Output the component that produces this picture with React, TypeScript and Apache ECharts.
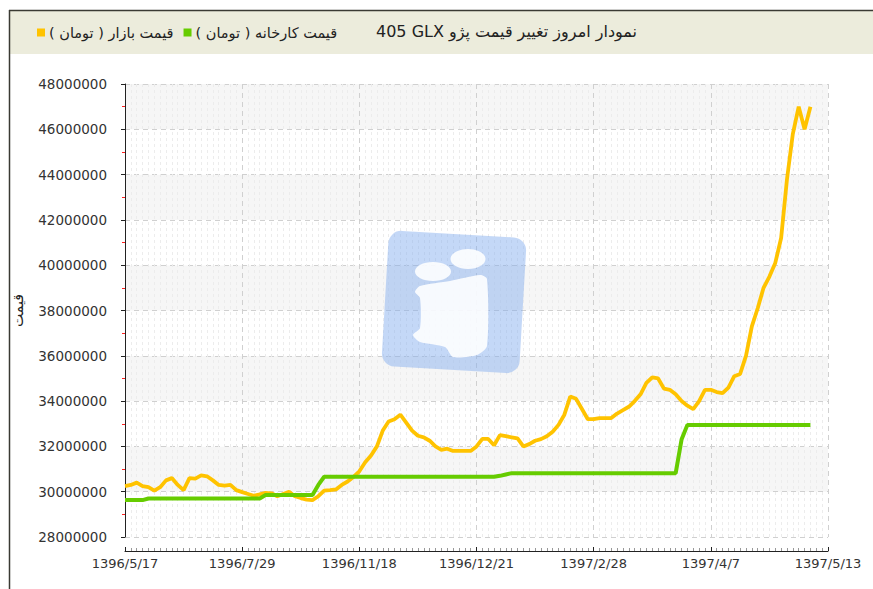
import React, { useEffect, useRef } from 'react';
import * as echarts from 'echarts';

// X tick labels (Persian calendar dates), one every 20 sample steps
const tickLabels = ['1396/5/17', '1396/7/29', '1396/11/18', '1396/12/21', '1397/2/28', '1397/4/7', '1397/5/13'];

const chartTitle = '\u202Bنمودار امروز تغییر قیمت پژو \u202A405 GLX\u202C\u202C';
const yAxisName = 'قیمت';
const marketName = 'قیمت بازار ( تومان )\u200F';
const factoryName = 'قیمت کارخانه ( تومان )\u200F';

// Market price (million Toman), one value per sample step
const marketPriceM = [
  30.25, 30.3, 30.4, 30.25, 30.2, 30.05, 30.2, 30.5, 30.6, 30.3,
  30.07, 30.6, 30.58, 30.72, 30.68, 30.5, 30.3, 30.27, 30.3, 30.07,
  29.98, 29.9, 29.82, 29.88, 29.95, 29.93, 29.8, 29.9, 30.0, 29.8,
  29.72, 29.65, 29.63, 29.8, 30.05, 30.07, 30.1, 30.3, 30.45, 30.65,
  30.9, 31.3, 31.6, 32.0, 32.7, 33.1, 33.2, 33.4, 33.05, 32.7,
  32.47, 32.4, 32.25, 32.0, 31.85, 31.9, 31.8, 31.8, 31.8, 31.8,
  32.0, 32.33, 32.33, 32.05, 32.5, 32.45, 32.4, 32.35, 32.0, 32.1,
  32.25, 32.32, 32.45, 32.65, 32.95, 33.4, 34.2, 34.1, 33.65, 33.2,
  33.2, 33.25, 33.25, 33.25, 33.45, 33.6, 33.75, 34.0, 34.3, 34.8,
  35.05, 35.0, 34.55, 34.5, 34.3, 34.0, 33.8, 33.65, 34.0, 34.5,
  34.5, 34.4, 34.35, 34.6, 35.1, 35.2, 36.0, 37.3, 38.1, 39.0,
  39.5, 40.1, 41.2, 43.8, 45.8, 47.0, 46.0, 47.0,
];

// Factory price (million Toman), one value per sample step
const factoryPriceM = [
  29.63, 29.63, 29.63, 29.63, 29.7, 29.7, 29.7, 29.7, 29.7, 29.7,
  29.7, 29.7, 29.7, 29.7, 29.7, 29.7, 29.7, 29.7, 29.7, 29.7,
  29.7, 29.7, 29.7, 29.7, 29.85, 29.85, 29.85, 29.85, 29.85, 29.85,
  29.85, 29.85, 29.85, 30.3, 30.66, 30.66, 30.66, 30.66, 30.66, 30.66,
  30.66, 30.66, 30.66, 30.66, 30.66, 30.66, 30.66, 30.66, 30.66, 30.66,
  30.66, 30.66, 30.66, 30.66, 30.66, 30.66, 30.66, 30.66, 30.66, 30.66,
  30.66, 30.66, 30.66, 30.66, 30.7, 30.76, 30.82, 30.82, 30.82, 30.82,
  30.82, 30.82, 30.82, 30.82, 30.82, 30.82, 30.82, 30.82, 30.82, 30.82,
  30.82, 30.82, 30.82, 30.82, 30.82, 30.82, 30.82, 30.82, 30.82, 30.82,
  30.82, 30.82, 30.82, 30.82, 30.82, 32.3, 32.95, 32.95, 32.95, 32.95,
  32.95, 32.95, 32.95, 32.95, 32.95, 32.95, 32.95, 32.95, 32.95, 32.95,
  32.95, 32.95, 32.95, 32.95, 32.95, 32.95, 32.95, 32.95,
];

const stepsPerLabel = 20;
const FONT = '"DejaVu Sans", sans-serif';

export default function App() {
  const ref = useRef<HTMLDivElement>(null);

  useEffect(() => {
    if (!ref.current) return;
    const chart = echarts.init(ref.current, undefined, { renderer: 'svg' });
    const toPairs = (arr: number[]) => arr.map((v, i) => [i, v * 1e6]);
    const xMax = (tickLabels.length - 1) * stepsPerLabel;
    const wmFill = 'rgba(255,255,255,0.88)';

    chart.setOption({
      animation: false,
      backgroundColor: '#ffffff',
      textStyle: { fontFamily: FONT },
      title: {
        text: chartTitle,
        right: 236,
        top: 23,
        padding: 0,
        textStyle: { fontFamily: FONT, fontSize: 16, fontWeight: 'normal', color: '#222' },
      },
      legend: {
        left: 37,
        top: 25,
        padding: 0,
        itemWidth: 8,
        itemHeight: 8,
        itemGap: 10,
        icon: 'rect',
        textStyle: { fontFamily: FONT, fontSize: 14.5, color: '#222', padding: [0, 0, 0, -1] },
        data: [marketName, factoryName],
      },
      graphic: [
        { type: 'rect', z: -20, silent: true, shape: { x: 9, y: 10, width: 880, height: 44 }, style: { fill: '#ECECDC' } },
        { type: 'line', z: -19, silent: true, shape: { x1: 9, y1: 10.5, x2: 880, y2: 10.5 }, style: { stroke: '#3a3a33', lineWidth: 1.5 } },
        { type: 'line', z: -19, silent: true, shape: { x1: 9.5, y1: 10, x2: 9.5, y2: 600 }, style: { stroke: '#3a3a33', lineWidth: 1.5 } },
        {
          type: 'group',
          x: 454,
          y: 302,
          rotation: -0.058,
          silent: true,
          z: 2,
          children: [
            { type: 'rect', z: 2, shape: { x: -69, y: -68, width: 138, height: 136, r: 13 }, style: { fill: 'rgba(130,172,238,0.47)' } },
          ],
        },
        { type: 'ellipse', z: 2, silent: true, shape: { cx: 468, cy: 259, rx: 17.5, ry: 10 }, style: { fill: wmFill } },
        { type: 'ellipse', z: 2, silent: true, shape: { cx: 433, cy: 271.5, rx: 18, ry: 9.5 }, style: { fill: wmFill } },
        {
          type: 'polygon',
          z: 2,
          silent: true,
          shape: {
            smooth: 0.25,
            points: [
              [420, 286], [450, 281], [480, 275], [487, 279], [487, 346], [477, 355],
              [453, 357], [445, 347], [420, 342], [413, 335], [420, 328], [420, 298], [415, 292],
            ],
          },
          style: { fill: wmFill },
        },
      ],
      grid: { left: 125, right: 45, top: 84, bottom: 52, containLabel: false },
      xAxis: {
        type: 'value',
        min: 0,
        max: xMax,
        interval: stepsPerLabel,
        offset: 14,
        axisLine: { show: true, lineStyle: { color: '#222', width: 1 } },
        axisTick: { show: true, inside: true, length: 4, lineStyle: { color: '#222' } },
        minorTick: { show: true, splitNumber: 20, length: 3, lineStyle: { color: '#999' } },
        axisLabel: {
          margin: 6,
          fontSize: 13,
          color: '#333',
          fontFamily: FONT,
          showMinLabel: true,
          showMaxLabel: true,
          formatter: (v: number) => tickLabels[Math.round(v / stepsPerLabel)] ?? '',
        },
        splitLine: { show: true, lineStyle: { color: '#d0d0d0', type: [5, 4] } },
        minorSplitLine: { show: true, lineStyle: { color: '#ececec', type: [3, 3] } },
      },
      yAxis: {
        type: 'value',
        min: 28000000,
        max: 48000000,
        interval: 2000000,
        offset: 15,
        name: yAxisName,
        nameLocation: 'middle',
        nameRotate: 90,
        nameGap: 85,
        nameTextStyle: { fontFamily: FONT, fontSize: 14, color: '#222' },
        axisLine: { show: true, lineStyle: { color: '#222', width: 1 } },
        axisTick: { show: true, length: 4, lineStyle: { color: '#222' } },
        minorTick: { show: true, splitNumber: 2, length: 3, lineStyle: { color: '#ff2020' } },
        axisLabel: {
          margin: 3,
          fontSize: 13.5,
          color: '#333',
          fontFamily: FONT,
          formatter: (v: number) => String(Math.round(v)),
        },
        splitLine: { show: true, lineStyle: { color: '#d0d0d0', type: [5, 4] } },
        splitArea: { show: true, areaStyle: { color: ['#ffffff', '#f6f6f6'] } },
      },
      series: [
        {
          name: marketName,
          type: 'line',
          data: toPairs(marketPriceM),
          symbol: 'none',
          z: 3,
          lineStyle: { color: '#FFC300', width: 3.8 },
          itemStyle: { color: '#FFC300' },
        },
        {
          name: factoryName,
          type: 'line',
          data: toPairs(factoryPriceM),
          symbol: 'none',
          z: 4,
          lineStyle: { color: '#66CC00', width: 4 },
          itemStyle: { color: '#66CC00' },
        },
      ],
    });

    return () => chart.dispose();
  }, []);

  return <div ref={ref} style={{ position: 'absolute', left: 0, top: 0, width: 873, height: 589 }} />;
}
